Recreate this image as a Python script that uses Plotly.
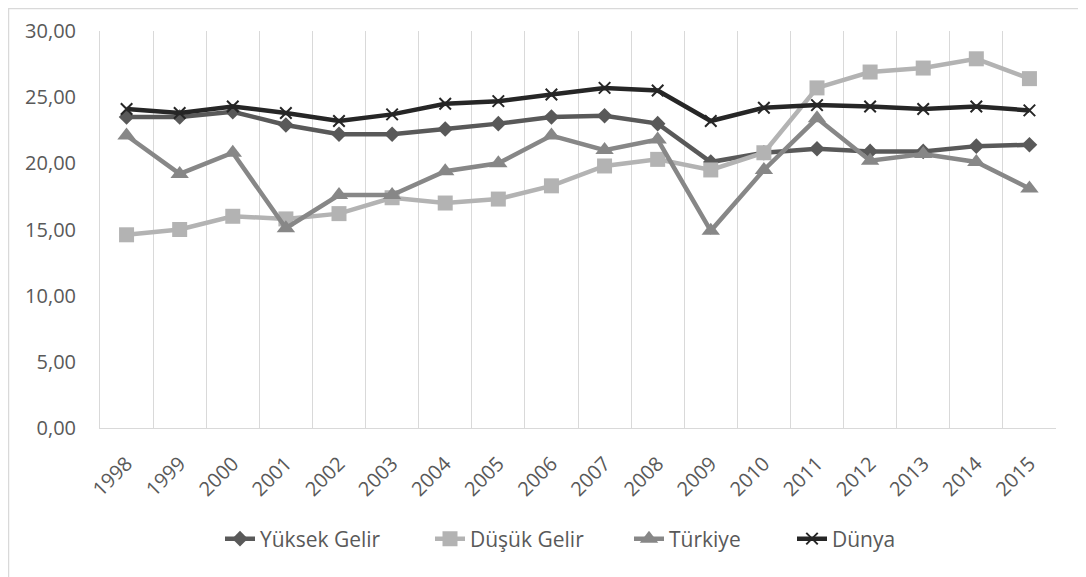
import plotly.graph_objects as go

years = ["1998", "1999", "2000", "2001", "2002", "2003", "2004", "2005", "2006",
         "2007", "2008", "2009", "2010", "2011", "2012", "2013", "2014", "2015"]
yuksek = [23.5, 23.5, 23.9, 22.9, 22.2, 22.2, 22.6, 23.0, 23.5,
          23.6, 23.0, 20.1, 20.8, 21.1, 20.9, 20.9, 21.3, 21.4]
dusuk = [14.6, 15.0, 16.0, 15.8, 16.2, 17.4, 17.0, 17.3, 18.3,
         19.8, 20.3, 19.5, 20.8, 25.7, 26.9, 27.2, 27.9, 26.4]
turkiye = [22.1, 19.2, 20.8, 15.1, 17.6, 17.6, 19.4, 20.0, 22.1,
           21.0, 21.8, 14.9, 19.5, 23.4, 20.2, 20.7, 20.1, 18.1]
dunya = [24.1, 23.8, 24.3, 23.8, 23.2, 23.7, 24.5, 24.7, 25.2,
         25.7, 25.5, 23.2, 24.2, 24.4, 24.3, 24.1, 24.3, 24.0]
y_ticks = [0, 5, 10, 15, 20, 25, 30]

FONT = "Open Sans, Liberation Sans, sans-serif"
TXT = "#595959"

# page offset of the plotly div (browser body margin)
OFF = 8
W, H = 1086 - OFF, 577 - OFF
L = 100 - OFF
T = 31 - OFF
R = 1086 - 1056
B = H - (428 - OFF)
pw, ph = W - L - R, H - T - B


def px_x(page_x):
    return (page_x - OFF - L) / pw


def px_y(page_y):
    return (H - B - (page_y - OFF)) / ph


fig = go.Figure()
fig.add_trace(go.Scatter(x=years, y=yuksek, name="Yüksek Gelir", mode="lines+markers",
                         line=dict(color="#595959", width=4.5), legend="legend",
                         marker=dict(symbol="diamond", size=12, color="#595959")))
fig.add_trace(go.Scatter(x=years, y=dusuk, name="Düşük Gelir", mode="lines+markers",
                         line=dict(color="#b3b3b3", width=4.5), legend="legend2",
                         marker=dict(symbol="square", size=15, color="#b3b3b3")))
fig.add_trace(go.Scatter(x=years, y=turkiye, name="Türkiye", mode="lines+markers",
                         line=dict(color="#878787", width=4.5), legend="legend3",
                         marker=dict(symbol="triangle-up", size=16, color="#878787")))
fig.add_trace(go.Scatter(x=years, y=dunya, name="Dünya", mode="lines+markers",
                         line=dict(color="#262626", width=4.5), legend="legend4",
                         marker=dict(symbol="x-thin-open", size=11.5, color="#262626",
                                     line=dict(color="#262626", width=2))))


def leg(text_start):
    return dict(orientation="h", x=px_x(text_start - 42), xanchor="left",
                y=px_y(539), yanchor="middle",
                font=dict(family=FONT, size=21, color=TXT),
                bgcolor="rgba(0,0,0,0)")


fig.update_layout(
    width=W, height=H,
    margin=dict(l=L, r=R, t=T, b=B, autoexpand=False),
    paper_bgcolor="white", plot_bgcolor="white",
    separators=",.",
    font=dict(family=FONT, color=TXT, size=19),
    showlegend=True,
    legend=leg(262), legend2=leg(472), legend3=leg(671), legend4=leg(834),
    xaxis=dict(type="category", range=[-0.5, len(years) - 0.5],
               tickson="boundaries", showgrid=True,
               gridcolor="#d9d9d9", gridwidth=1, showline=True,
               linecolor="#d9d9d9", linewidth=1, ticks="",
               tickangle=-45, tickfont=dict(family=FONT, size=20, color=TXT),
               ticklabelstandoff=15, automargin=False),
    yaxis=dict(range=[0, 30], tickvals=y_ticks, tickformat=".2f",
               showgrid=False, zeroline=False, showline=True,
               linecolor="#d9d9d9", linewidth=1, ticks="",
               tickfont=dict(family=FONT, size=20, color=TXT),
               ticklabelstandoff=19, automargin=False),
    shapes=[dict(type="rect", xref="paper", yref="paper",
                 x0=px_x(OFF + 0.5), x1=px_x(1084),
                 y0=px_y(600), y1=px_y(OFF + 0.5),
                 line=dict(color="#d9d9d9", width=1.5), layer="below")],
)

fig.write_html("out.html")
